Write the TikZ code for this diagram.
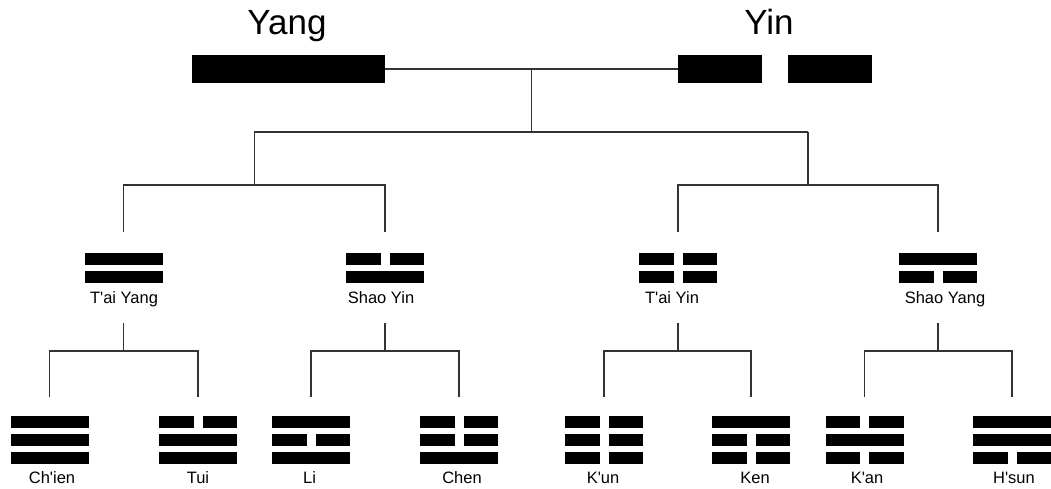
\documentclass[tikz,border=0pt]{standalone}
\usepackage{fontspec}
\setmainfont{Liberation Sans}
\usetikzlibrary{calc}

\tikzset{
  link/.style={draw=black!80, line width=1.2pt},
  stroke/.style={fill=black, inner sep=0pt, minimum height=28pt},
  guaname/.style={font=\fontsize{16.5}{18}\selectfont, inner sep=0pt, anchor=base},
  title/.style={font=\fontsize{35}{40}\selectfont, inner sep=0pt, anchor=base},
}

% name, centre x, top y, lines from the top (1 whole, 0 broken)
\newcommand{\gua}[4]{%
  \coordinate (#1) at (#2,#3);
  \foreach \l [count=\i] in {#4} {
    \ifnum\l=1
      \fill ({#2-39},{#3+18*(\i-1)}) rectangle ++(78,12);
    \else
      \fill ({#2-39},{#3+18*(\i-1)}) rectangle ++(34.5,12);
      \fill ({#2+4.5},{#3+18*(\i-1)}) rectangle ++(34.5,12);
    \fi
  }
}

\begin{document}
\begin{tikzpicture}[x=1pt,y=-1pt]
  \useasboundingbox (0,0) rectangle (1051,489);

  \node[stroke, minimum width=193pt] (yang) at (288.5,69) {};
  \node[stroke, minimum width=84pt] (yinA) at (720,69) {};
  \node[stroke, minimum width=84pt] (yinB) at (830,69) {};
  \node[title] (yangT) at (287,35) {Yang};
  \node[title] (yinT) at (769,35) {Yin};

  \gua{taiyang}{123.5}{253}{1,1}
  \gua{shaoyin}{385}{253}{0,1}
  \gua{taiyin}{678}{253}{0,0}
  \gua{shaoyang}{938}{253}{1,0}
  \node[guaname] (taiyangT) at (124,303) {T\textquotesingle ai Yang};
  \node[guaname] (shaoyinT) at (381,303) {Shao Yin};
  \node[guaname] (taiyinT) at (672,303) {T\textquotesingle ai Yin};
  \node[guaname] (shaoyangT) at (945,303) {Shao Yang};

  \gua{chien}{49.5}{416}{1,1,1}
  \gua{tui}{198}{416}{0,1,1}
  \gua{li}{311}{416}{1,0,1}
  \gua{chen}{459}{416}{0,0,1}
  \gua{kun}{604}{416}{0,0,0}
  \gua{ken}{751}{416}{1,0,0}
  \gua{kan}{864.5}{416}{0,1,0}
  \gua{hsun}{1012}{416}{1,1,0}
  \node[guaname] (chienT) at (52,483) {Ch\textquotesingle ien};
  \node[guaname] (tuiT) at (198,483) {Tui};
  \node[guaname] (liT) at (309.5,483) {Li};
  \node[guaname] (chenT) at (462,483) {Chen};
  \node[guaname] (kunT) at (603,483) {K\textquotesingle un};
  \node[guaname] (kenT) at (755,483) {Ken};
  \node[guaname] (kanT) at (867,483) {K\textquotesingle an};
  \node[guaname] (hsunT) at (1014,483) {H\textquotesingle sun};

  % first split
  \draw[link] (yang.east) -- (yinA.west) coordinate[midway] (top);
  \draw[link] (top) -- ++(0,63) coordinate (split);
  \coordinate (yangfork) at ($(taiyang)!.5!(shaoyin)+(0,-68)$);
  \coordinate (yinfork) at ($(taiyin)!.5!(shaoyang)+(0,-68)$);
  \draw[link] (split -| yangfork) -- (split -| yinfork);
  \draw[link] (split -| yangfork) -- (yangfork);
  \draw[link] (split -| yinfork) -- (yinfork);
  \draw[link] ([yshift=21pt]taiyang) |- (yangfork) -| ([yshift=21pt]shaoyin);
  \draw[link] ([yshift=21pt]taiyin) |- (yinfork) -| ([yshift=21pt]shaoyang);

  % second split
  \draw[link] ([yshift=-70pt]taiyang) -- ++(0,28) coordinate (taiyangfork);
  \draw[link] ([yshift=19pt]chien) |- (taiyangfork) -| ([yshift=19pt]tui);
  \draw[link] ([yshift=-70pt]shaoyin) -- ++(0,28) coordinate (shaoyinfork);
  \draw[link] ([yshift=19pt]li) |- (shaoyinfork) -| ([yshift=19pt]chen);
  \draw[link] ([yshift=-70pt]taiyin) -- ++(0,28) coordinate (taiyinfork);
  \draw[link] ([yshift=19pt]kun) |- (taiyinfork) -| ([yshift=19pt]ken);
  \draw[link] ([yshift=-70pt]shaoyang) -- ++(0,28) coordinate (shaoyangfork);
  \draw[link] ([yshift=19pt]kan) |- (shaoyangfork) -| ([yshift=19pt]hsun);
\end{tikzpicture}
\end{document}
